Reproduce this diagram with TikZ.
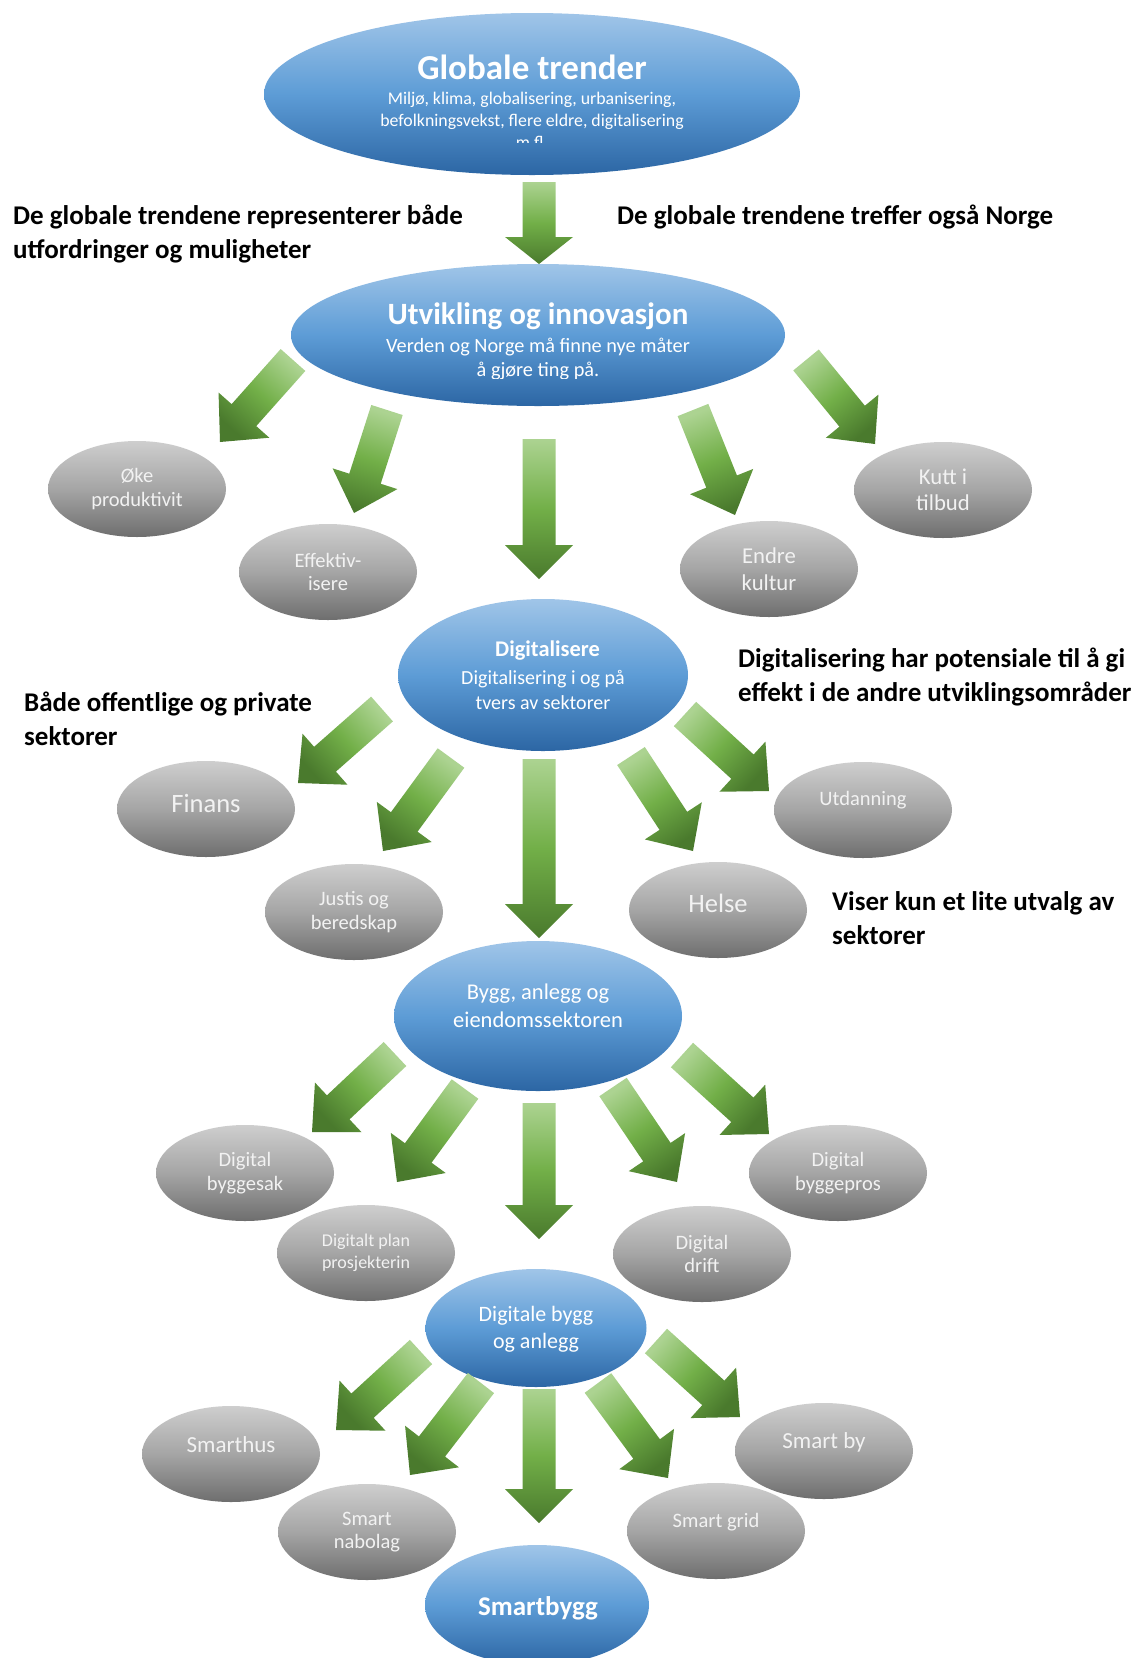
\documentclass[tikz,border=0pt]{standalone}
\usepackage{fontspec}
\setmainfont{Carlito}
\usetikzlibrary{shapes.geometric,calc}

\definecolor{blueTop}{RGB}{160,197,232}
\definecolor{blueMid}{RGB}{93,156,214}
\definecolor{blueBot}{RGB}{44,102,164}
\definecolor{grayTop}{RGB}{206,206,206}
\definecolor{grayMid}{RGB}{165,165,165}
\definecolor{grayBot}{RGB}{110,110,110}
\definecolor{grayText}{RGB}{242,242,242}
\definecolor{greenLight}{RGB}{172,211,145}
\definecolor{greenMid}{RGB}{114,175,72}
\definecolor{greenDark}{RGB}{74,122,45}

\tikzset{
  blueell/.style={ellipse, inner sep=0pt, top color=blueTop, bottom color=blueBot, middle color=blueMid},
  grayell/.style={ellipse, inner sep=0pt, minimum width=178, minimum height=96,
    top color=grayTop, bottom color=grayBot, middle color=grayMid,
    text=grayText, align=center, font=\fontsize{20.5}{23.5}\selectfont},
  graylabel/.style={text=grayText, inner sep=0pt, anchor=base, font=\fontsize{20.5}{24}\selectfont},
  note/.style={anchor=west, align=left, inner sep=0pt, font=\bfseries\fontsize{27}{34}\selectfont},
  wtext/.style={text=white, align=center, inner sep=0pt},
  arrowfill/.style={top color=greenLight, bottom color=greenDark, middle color=greenMid},
}

% block arrow from a tail coordinate to a tip coordinate, shaded along its axis
\newcommand\garrow[3][34pt]{%
  \path let \p1=(#2), \p2=(#3) in
    \pgfextra{\pgfmathsetmacro\garrowang{atan2(\y2-\y1,\x2-\x1)+90}\global\let\garrowangle\garrowang};
  \coordinate (hb) at ($(#3)!#1!(#2)$);
  \shade[arrowfill, shading angle=\garrowangle]
    ($(#2)!16.5pt!90:(#3)$) -- ($(hb)!16.5pt!90:(#3)$) -- ($(hb)!34pt!90:(#3)$) -- (#3)
    -- ($(hb)!34pt!-90:(#3)$) -- ($(hb)!16.5pt!-90:(#3)$) -- ($(#2)!16.5pt!-90:(#3)$) -- cycle;
}

\begin{document}
\begin{tikzpicture}[x=1pt,y=-1pt]
\useasboundingbox (0,0) rectangle (1139,1658);
\fill[white] (0,0) rectangle (1139,1658);
\clip (0,0) rectangle (1139,1658);

% ---------- main chain ----------
\node[blueell, minimum width=536, minimum height=162] (g1) at (532,94) {};
\node[wtext, font=\bfseries\fontsize{35}{40}\selectfont] (g1t) at (532,67) {Globale trender};
\node[wtext, anchor=base, font=\fontsize{17.8}{22}\selectfont] (g1a) at (532,104.5) {Miljø, klima, globalisering, urbanisering,};
\node[wtext, anchor=base, font=\fontsize{17.8}{22}\selectfont] (g1b) at (532,126.5) {befolkningsvekst, flere eldre, digitalisering};
\begin{scope}
  \clip (0,0) rectangle (1139,142);
  \node[wtext, anchor=base, font=\fontsize{17.8}{22}\selectfont] (g1c) at (532,148.5) {m.fl.};
\end{scope}

\node[blueell, minimum width=494, minimum height=142] (u1) at (538,335) {};
\node[wtext, font=\bfseries\fontsize{31}{36}\selectfont] (u1t) at (538,316) {Utvikling og innovasjon};
\node[wtext, anchor=base, font=\fontsize{20.3}{23.5}\selectfont] (u1a) at (538,352.5) {Verden og Norge må finne nye måter};
\begin{scope}
  \clip (0,0) rectangle (1139,378);
  \node[wtext, anchor=base, font=\fontsize{20.3}{23.5}\selectfont] (u1b) at (538,376) {å gjøre ting på.};
\end{scope}

\node[blueell, minimum width=290, minimum height=152] (d1) at (543,675) {};
\node[wtext, font=\bfseries\fontsize{22.4}{26}\selectfont] (d1t) at (547.5,651) {Digitalisere};
\node[wtext, font=\fontsize{20}{25.4}\selectfont] (d1a) at (543,690) {Digitalisering i og på\\tvers av sektorer};

\node[blueell, minimum width=288, minimum height=150] (b1) at (538,1016) {};
\node[wtext, font=\fontsize{22.5}{27.5}\selectfont] (b1a) at (538,1006) {Bygg, anlegg og\\eiendomssektoren};

\node[blueell, minimum width=221, minimum height=118] (a1) at (536,1328) {};
\node[wtext, font=\fontsize{22}{26.5}\selectfont] (a1a) at (536,1329) {Digitale bygg\\og anlegg};

\node[blueell, minimum width=224, minimum height=120] (s1) at (537,1605) {};
\node[wtext, font=\bfseries\fontsize{27}{32}\selectfont] (s1a) at (538,1608) {Smartbygg};

% ---------- side notes ----------
\node[note] (n1) at (13,234) {De globale trendene representerer både\\utfordringer og muligheter};
\node[note] (n2) at (617,217) {De globale trendene treffer også Norge};
\node[note] (n3) at (738,677) {Digitalisering har potensiale til å gi\\effekt i de andre utviklingsområder};
\node[note] (n4) at (24,719) {Både offentlige og private\\sektorer};
\node[note] (n5) at (832,918) {Viser kun et lite utvalg av\\sektorer};

% ---------- grey outcome ellipses ----------
\node[grayell] (oke) at (137,489) {Øke\\produktivit};
\node[grayell] (eff) at (328,572) {Effektiv-\\isere};
\node[grayell, font=\fontsize{22.7}{27}\selectfont] (endre) at (769,569) {Endre\\kultur};
\node[grayell, font=\fontsize{22.7}{26}\selectfont] (kutt) at (943,490) {Kutt i\\tilbud};

\node[grayell] (finans) at (206,809) {};
\node[graylabel, font=\fontsize{26.5}{30}\selectfont] (finans-t) at (206,812) {Finans};
\node[grayell] (justis) at (354,912) {Justis og\\beredskap};
\node[grayell] (helse) at (718,910) {};
\node[graylabel, font=\fontsize{26.5}{30}\selectfont] (helse-t) at (718,912) {Helse};
\node[grayell] (utd) at (863,810) {};
\node[graylabel] (utd-t) at (863,805) {Utdanning};

\node[grayell] (dbs) at (245,1173) {Digital\\byggesak};
\node[grayell, font=\fontsize{18}{22}\selectfont] (dplan) at (366,1253) {Digitalt plan\\prosjekterin};
\node[grayell] (ddrift) at (702,1254) {Digital\\drift};
\node[grayell] (dbp) at (838,1173) {Digital\\byggepros};

\node[grayell] (shus) at (231,1454) {};
\node[graylabel, font=\fontsize{23}{27}\selectfont] (shus-t) at (231,1452) {Smarthus};
\node[grayell] (snab) at (367,1532) {Smart\\nabolag};
\node[grayell] (sgrid) at (716,1531) {};
\node[graylabel] (sgrid-t) at (716,1527) {Smart grid};
\node[grayell] (sby) at (824,1451) {};
\node[graylabel, font=\fontsize{23}{27}\selectfont] (sby-t) at (824,1448) {Smart by};

% ---------- arrow end points ----------
\coordinate (t0) at (539,182);   \coordinate (p0) at (539,264);
\coordinate (t1) at (293,360);   \coordinate (p1) at (220,442);
\coordinate (t2) at (387,410);   \coordinate (p2) at (354,513);
\coordinate (t3) at (539,439);   \coordinate (p3) at (539,579);
\coordinate (t4) at (693,410);   \coordinate (p4) at (735,515);
\coordinate (t5) at (806,360);   \coordinate (p5) at (875,444);
\coordinate (t6) at (382,709);   \coordinate (p6) at (298,783);
\coordinate (t7) at (451,758);   \coordinate (p7) at (383,851);
\coordinate (t8) at (539,759);   \coordinate (p8) at (539,938);
\coordinate (t9) at (631,756);   \coordinate (p9) at (693,851);
\coordinate (t10) at (685,714);  \coordinate (p10) at (769,791);
\coordinate (t11) at (395,1054); \coordinate (p11) at (312,1132);
\coordinate (t12) at (465,1089); \coordinate (p12) at (397,1182);
\coordinate (t13) at (539,1103); \coordinate (p13) at (539,1239);
\coordinate (t14) at (613,1087); \coordinate (p14) at (677,1182);
\coordinate (t15) at (682,1055); \coordinate (p15) at (769,1134);
\coordinate (t16) at (421,1352); \coordinate (p16) at (336,1430);
\coordinate (t17) at (481,1383); \coordinate (p17) at (410,1475);
\coordinate (t18) at (539,1389); \coordinate (p18) at (539,1523);
\coordinate (t19) at (598,1383); \coordinate (p19) at (668,1478);
\coordinate (t20) at (656,1341); \coordinate (p20) at (740,1417);

% ---------- arrows ----------
\garrow[27pt]{t0}{p0}
\garrow[36pt]{t1}{p1}
\garrow[36pt]{t2}{p2}
\garrow{t3}{p3}
\garrow[36pt]{t4}{p4}
\garrow[36pt]{t5}{p5}
\garrow[36pt]{t6}{p6}
\garrow[36pt]{t7}{p7}
\garrow{t8}{p8}
\garrow[36pt]{t9}{p9}
\garrow[36pt]{t10}{p10}
\garrow[36pt]{t11}{p11}
\garrow[36pt]{t12}{p12}
\garrow{t13}{p13}
\garrow[36pt]{t14}{p14}
\garrow[36pt]{t15}{p15}
\garrow[36pt]{t16}{p16}
\garrow[36pt]{t17}{p17}
\garrow{t18}{p18}
\garrow[36pt]{t19}{p19}
\garrow[36pt]{t20}{p20}
\end{tikzpicture}
\end{document}
